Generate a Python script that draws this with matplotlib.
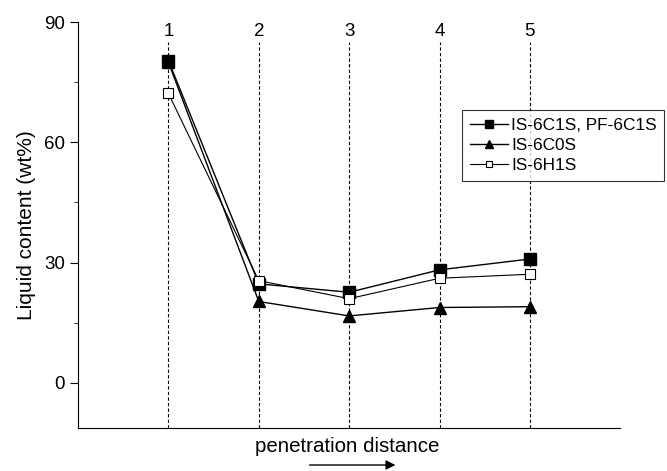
import matplotlib.pyplot as plt

plt.rcParams['font.family'] = ['Liberation Sans', 'DejaVu Sans']

positions = [1, 2, 3, 4, 5]
is_6c1s = [80.4, 24.7, 22.6, 28.2, 30.9]
is_6c0s = [80.0, 20.3, 16.7, 18.8, 19.0]
is_6h1s = [72.2, 25.5, 21.0, 26.1, 27.1]
labels = ['IS-6C1S, PF-6C1S', 'IS-6C0S', 'IS-6H1S']

fig = plt.figure(figsize=(6.67, 4.71), dpi=100)
ax = fig.add_axes([0.117, 0.091, 0.813, 0.862])

for p in positions:
    ax.vlines(p, -11.3, 85, color='k', ls=(0, (3, 2)), lw=0.8, zorder=1)
    ax.text(p, 87.7, str(p), ha='center', va='center', fontsize=13.5)

ax.plot(positions, is_6c1s, '-s', color='k', mfc='k', ms=8, lw=1, label=labels[0], zorder=3)
ax.plot(positions, is_6c0s, '-^', color='k', mfc='k', ms=8.5, lw=1, label=labels[1], zorder=2)
ax.plot(positions, is_6h1s, '-s', color='k', mfc='w', ms=6.5, lw=0.8, mew=0.8, label=labels[2], zorder=4)

ax.set_xlim(0, 6)
ax.set_ylim(-11.3, 90)
ax.set_yticks([0, 30, 60, 90])
ax.set_yticks([15, 45, 75], minor=True)
ax.set_xticks([])
ax.tick_params(axis='y', direction='out', labelsize=13.5, length=6)
ax.tick_params(axis='y', which='minor', direction='out', length=3)
for s in ['top', 'right']:
    ax.spines[s].set_visible(False)
ax.set_ylabel('Liquid content (wt%)', fontsize=15, labelpad=6)

leg = ax.legend(loc='upper left', bbox_to_anchor=(0.708, 0.783), fontsize=12.4,
                frameon=True, fancybox=False, edgecolor='k', handlelength=2.2,
                handletextpad=0.2, borderpad=0.45, labelspacing=0.28, borderaxespad=0,
                markerscale=0.65)
leg.get_frame().set_linewidth(0.8)

fig.text(0.52, 0.051, 'penetration distance', ha='center', va='center', fontsize=14.8)
ax.annotate('', xy=(0.597, 0.0127), xytext=(0.46, 0.0127), xycoords='figure fraction',
            arrowprops=dict(arrowstyle='-|>', color='k', lw=1, mutation_scale=14))

fig.savefig('out.png', dpi=100)
